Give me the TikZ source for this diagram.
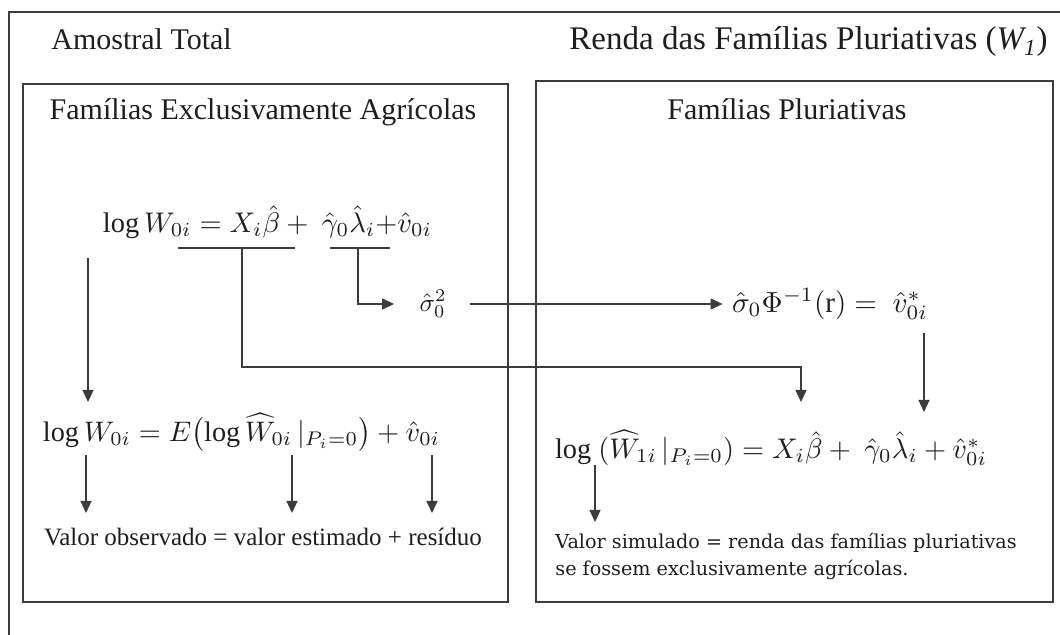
\documentclass[tikz,border=0pt]{standalone}
\usepackage{amsmath}
\usepackage{graphicx}
\usepackage{fontspec}
\setmainfont{Liberation Serif}
\newfontfamily\simfont{DejaVu Serif}
\usetikzlibrary{arrows.meta}
\definecolor{linec}{RGB}{60,60,60}
\definecolor{textc}{RGB}{30,30,30}
\begin{document}
\begin{tikzpicture}[x=0.5pt,y=-0.5pt,
  frame/.style={draw=linec,line width=0.7pt,inner sep=0pt,outer sep=0pt},
  hdr/.style={font=\fontsize{15}{18}\selectfont,text=textc,inner sep=0pt},
  small/.style={font=\fontsize{12.5}{15}\selectfont,text=textc,inner sep=0pt},
  simtext/.style={font=\simfont\fontsize{9.6}{13.5}\selectfont,text=textc,inner sep=0pt,align=left},
  eqn/.style={inner sep=0pt,text=textc},
  conn/.style={draw=linec,line width=0.65pt},
  arr/.style={conn,-{Triangle[length=6pt,width=5.5pt]}}]
\useasboundingbox (0,0) rectangle (1060,635);
\clip (0,0) rectangle (1060,635);

% frames
\node[frame,minimum width=530.5pt,minimum height=319pt] (outer) at (539.5,331) {};
\node[frame,minimum width=242.5pt,minimum height=259pt] (boxL) at (265.5,343) {};
\node[frame,minimum width=258.5pt,minimum height=260.5pt] (boxR) at (794.5,341.5) {};

% headers
\node[hdr,anchor=base west] (amostral) at (51,50) {Amostral Total};
\node[hdr,anchor=base east,font=\fontsize{16.5}{19}\selectfont] (renda) at (1048,50) {Renda das Famílias Pluriativas (\textit{W\textsubscript{1}})};
\node[hdr,anchor=base] (titL) at (263,120) {Famílias Exclusivamente Agrícolas};
\node[hdr,anchor=base] (titR) at (787,120) {Famílias Pluriativas};

% equations
\node[eqn] (eqA) at (267.5,222) {\resizebox{164.5pt}{!}{$\log W_{0i} = X_i\hat{\beta} +\ \hat{\gamma}_0\hat{\lambda}_i{+}\hat{v}_{0i}$}};
\node[eqn] (sig) at (433,304) {\resizebox{13.5pt}{!}{$\hat{\sigma}_0^2$}};
\node[eqn] (phi) at (830,304) {\resizebox{98pt}{!}{$\hat{\sigma}_0\Phi^{-1}(\mathrm{r}) =\ \hat{v}^{*}_{0i}$}};
\node[eqn] (eqB) at (241.5,432) {\resizebox{198.5pt}{!}{$\log W_{0i} = E\bigl(\log \widehat{W}_{0i}\,|_{P_i=0}\bigr) + \hat{v}_{0i}$}};
\node[eqn] (eqC) at (771,448) {\resizebox{216pt}{!}{$\log\ (\widehat{W}_{1i}\,|_{P_i=0}) = X_i\hat{\beta} +\ \hat{\gamma}_0\hat{\lambda}_i + \hat{v}^{*}_{0i}$}};

% texts
\node[small,anchor=base] (valL) at (263,546) {Valor observado = valor estimado + resíduo};
\node[simtext,anchor=north west] (valR) at (555,533) {Valor simulado = renda das famílias pluriativas\\se fossem exclusivamente agrícolas.};

% underlines and connector points
\coordinate (ulA1) at (178,248);
\coordinate (ulA2) at (295,248);
\coordinate (ulB1) at (330,248);
\coordinate (ulB2) at (390,248);
\coordinate (ulAm) at (242,248);
\coordinate (ulBm) at (358,248);
\coordinate (tgtX) at (801,402);
\coordinate (vs1) at (924,333);
\coordinate (vs2) at (924,412);
\coordinate (lg1) at (88,258);
\coordinate (lg2) at (88,402);
\coordinate (o1) at (86,455);
\coordinate (o1e) at (86,513);
\coordinate (o2) at (292,455);
\coordinate (o2e) at (292,513);
\coordinate (o3) at (432,455);
\coordinate (o3e) at (432,513);
\coordinate (r1) at (595,465);
\coordinate (r1e) at (595,522);

\draw[conn] (ulA1) -- (ulA2);
\draw[conn] (ulB1) -- (ulB2);
\draw[arr] (ulAm) -- ++(0,119) -| (tgtX);
\draw[arr] (ulBm) |- ([xshift=-12.5pt]sig.west);
\draw[arr] ([xshift=11.5pt]sig.east) -- ([xshift=-4.5pt]phi.west);
\draw[arr] (vs1) -- (vs2);
\draw[arr] (lg1) -- (lg2);
\draw[arr] (o1) -- (o1e);
\draw[arr] (o2) -- (o2e);
\draw[arr] (o3) -- (o3e);
\draw[arr] (r1) -- (r1e);
\end{tikzpicture}
\end{document}
